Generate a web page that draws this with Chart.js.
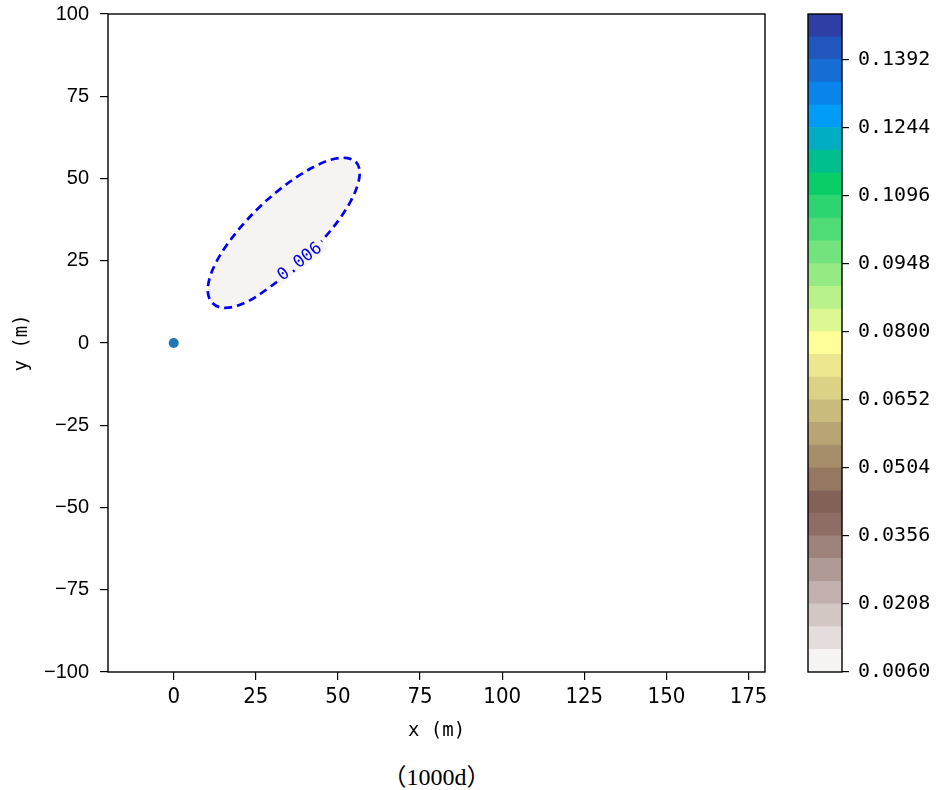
<!DOCTYPE html>
<html>
<head>
<meta charset="utf-8">
<script src="https://cdn.jsdelivr.net/npm/chart.js@4.4.0/dist/chart.umd.min.js"></script>
<style>
  html, body { margin: 0; padding: 0; background: #fff; }
  #wrap { position: relative; width: 936px; height: 790px; }
  #main { position: absolute; left: 0; top: 0; }
  #cbar { position: absolute; left: 800px; top: 0; }
  #caption {
    position: absolute; left: 108px; width: 657px; top: 757px;
    text-align: center; color: #000;
    font: 24px "Liberation Serif", "Noto Sans CJK SC", serif;
  }
</style>
</head>
<body>
<div id="wrap">
  <canvas id="main" width="790" height="750"></canvas>
  <canvas id="cbar" width="136" height="700"></canvas>
  <div id="caption">（1000d）</div>
</div>
<script>
// valores
const xTicks = [0, 25, 50, 75, 100, 125, 150, 175];
const yTicks = [-100, -75, -50, -25, 0, 25, 50, 75, 100];
const sourceX = [0];
const sourceY = [0];

// contorno 0.006 (arranca en el tramo de la etiqueta)
const contourX = [40.7, 46.1, 50.7, 54.1, 56.1, 56.6, 55.5, 52.9, 49.0, 44.0, 38.3, 32.3,
                  26.3, 20.9, 16.3, 12.9, 10.9, 10.4, 11.4, 13.9, 17.8, 22.9, 28.6, 34.7, 40.7];
const contourY = [26.5, 32.2, 38.0, 43.5, 48.4, 52.3, 55.0, 56.2, 56.0, 54.2, 51.0, 46.7,
                  41.5, 35.8, 30.0, 24.5, 19.6, 15.5, 12.6, 10.9, 10.9, 12.8, 16.5, 21.2, 26.5];
const contourLabel = '0.006';
const contourLabelX = 38.4;
const contourLabelY = 24.6;

// niveles de la barra de color
const cbarLevels = [0.006, 0.01093, 0.01587, 0.0208, 0.02573, 0.03067, 0.0356, 0.04053,
                    0.04547, 0.0504, 0.05533, 0.06027, 0.0652, 0.07013, 0.07507, 0.08,
                    0.08493, 0.08987, 0.0948, 0.09973, 0.10467, 0.1096, 0.11453, 0.11947,
                    0.1244, 0.12933, 0.13427, 0.1392, 0.14413, 0.14907];
const cbarTicks = [0.0060, 0.0208, 0.0356, 0.0504, 0.0652, 0.0800, 0.0948, 0.1096, 0.1244, 0.1392];

// mapa de color terrain invertido
const terrainStops = [
    [0.00, [0.2, 0.2, 0.6]],
    [0.15, [0.0, 0.6, 1.0]],
    [0.25, [0.0, 0.8, 0.4]],
    [0.50, [1.0, 1.0, 0.6]],
    [0.75, [0.5, 0.36, 0.33]],
    [1.00, [1.0, 1.0, 1.0]]
];
function terrainR(t) {
    const u = 1 - t;
    for (let i = 1; i < terrainStops.length; i++) {
        const [p1, c1] = terrainStops[i];
        const [p0, c0] = terrainStops[i - 1];
        if (u <= p1) {
            const f = (u - p0) / (p1 - p0);
            const c = c0.map((v, k) => Math.round(255 * (v + (c1[k] - v) * f)));
            return `rgb(${c[0]}, ${c[1]}, ${c[2]})`;
        }
    }
    return 'rgb(255,255,255)';
}
const nBands = cbarLevels.length - 1;
const bandColors = [];
for (let i = 0; i < nBands; i++) {
    bandColors.push(terrainR((i + 0.5) / nBands));
}
const fillColor = bandColors[0];
const monoFont = '"DejaVu Sans Mono", "Liberation Mono", monospace';

// marco completo alrededor del area
const framePlugin = {
    id: 'frame',
    afterDraw(chart) {
        const { ctx, chartArea: a } = chart;
        ctx.save();
        ctx.strokeStyle = '#000';
        ctx.lineWidth = 1.4;
        ctx.strokeRect(a.left, a.top, a.right - a.left, a.bottom - a.top);
        ctx.restore();
    }
};

// etiqueta del contorno, con hueco en la linea
const contourLabelPlugin = {
    id: 'contourLabel',
    afterDatasetsDraw(chart) {
        const { ctx, scales } = chart;
        const px = scales.x.getPixelForValue(contourLabelX);
        const py = scales.y.getPixelForValue(contourLabelY);
        ctx.save();
        ctx.translate(px, py);
        ctx.rotate(-38 * Math.PI / 180);
        ctx.font = '17px ' + monoFont;
        const w = ctx.measureText(contourLabel).width;
        ctx.fillStyle = fillColor;
        ctx.fillRect(-w / 2 - 4, -6, w + 8, 12);
        ctx.fillStyle = '#0000ee';
        ctx.textAlign = 'center';
        ctx.textBaseline = 'middle';
        ctx.fillText(contourLabel, 0, 0);
        ctx.restore();
    }
};

// sin margen extra por las etiquetas de los extremos
function noEndPadding(s) {
    s.paddingTop = 0;
    s.paddingBottom = 0;
    s.paddingLeft = 0;
    s.paddingRight = 0;
}

const contourData = contourX.map((x, i) => ({ x: x, y: contourY[i] }));
const sourceData = sourceX.map((x, i) => ({ x: x, y: sourceY[i] }));

new Chart(document.getElementById('main'), {
    type: 'scatter',
    data: {
        datasets: [
            {
                label: 'contorno',
                data: contourData,
                showLine: true,
                fill: 'shape',
                backgroundColor: fillColor,
                borderColor: '#0000ee',
                borderWidth: 2.7,
                borderDash: [8, 5],
                tension: 0.35,
                pointRadius: 0
            },
            {
                label: 'fuente',
                data: sourceData,
                pointRadius: 5,
                backgroundColor: '#1f77b4',
                borderWidth: 0
            }
        ]
    },
    options: {
        responsive: false,
        animation: false,
        layout: { padding: { top: 14, right: 25, left: 0, bottom: 0 } },
        plugins: { legend: { display: false }, tooltip: { enabled: false } },
        scales: {
            x: {
                type: 'linear',
                min: -20,
                max: 180,
                afterBuildTicks: s => { s.ticks = xTicks.map(v => ({ value: v })); },
                afterFit: s => { s.height = 78; noEndPadding(s); },
                grid: { drawOnChartArea: false, drawTicks: true, tickLength: 8, color: '#000', lineWidth: 1.2 },
                border: { display: false },
                ticks: {
                    color: '#000',
                    padding: 4,
                    maxRotation: 0,
                    font: { family: '"Liberation Sans Narrow", "DejaVu Sans Condensed", sans-serif', size: 22 }
                },
                title: {
                    display: true,
                    text: 'x (m)',
                    color: '#000',
                    padding: { top: 0, bottom: 8 },
                    font: { family: monoFont, size: 19 }
                }
            },
            y: {
                type: 'linear',
                min: -100,
                max: 100,
                afterBuildTicks: s => { s.ticks = yTicks.map(v => ({ value: v })); },
                afterFit: s => { s.width = 108; noEndPadding(s); },
                grid: { drawOnChartArea: false, drawTicks: true, tickLength: 8, color: '#000', lineWidth: 1.2 },
                border: { display: false },
                ticks: {
                    color: '#000',
                    padding: 11,
                    font: { family: '"Liberation Sans", Arial, sans-serif', size: 20 },
                    callback: v => v < 0 ? '\u2212' + Math.abs(v) : String(v)
                },
                title: {
                    display: true,
                    text: 'y (m)',
                    color: '#000',
                    padding: { top: 11, bottom: 0 },
                    font: { family: monoFont, size: 19 }
                }
            }
        }
    },
    plugins: [contourLabelPlugin, framePlugin]
});

// barra de color
new Chart(document.getElementById('cbar'), {
    type: 'bar',
    data: {
        labels: [''],
        datasets: bandColors.map((c, i) => ({
            data: [[cbarLevels[i], cbarLevels[i + 1]]],
            backgroundColor: c,
            borderWidth: 0,
            grouped: false,
            barPercentage: 1,
            categoryPercentage: 1
        }))
    },
    options: {
        responsive: false,
        animation: false,
        layout: { padding: { left: 8, top: 14, bottom: 28, right: 0 } },
        plugins: { legend: { display: false }, tooltip: { enabled: false } },
        scales: {
            x: { display: false },
            y: {
                position: 'right',
                min: cbarLevels[0],
                max: cbarLevels[cbarLevels.length - 1],
                afterBuildTicks: s => { s.ticks = cbarTicks.map(v => ({ value: v })); },
                afterFit: s => { s.width = 94; noEndPadding(s); },
                grid: { drawOnChartArea: false, drawTicks: true, tickLength: 7, color: '#000', lineWidth: 1.2 },
                border: { display: false },
                ticks: {
                    color: '#000',
                    padding: 9,
                    font: { family: monoFont, size: 20 },
                    callback: v => Number(v).toFixed(4)
                }
            }
        }
    },
    plugins: [framePlugin]
});
</script>
</body>
</html>
